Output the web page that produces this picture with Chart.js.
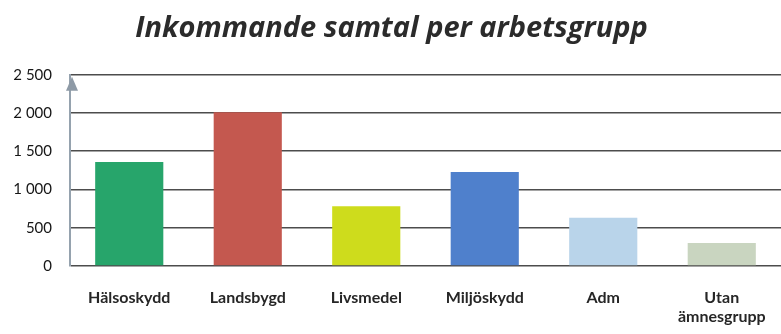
<!DOCTYPE html>
<html>
<head>
<meta charset="utf-8">
<script src="https://cdn.jsdelivr.net/npm/chart.js@4/dist/chart.umd.min.js"></script>
<style>
  html, body { margin: 0; padding: 0; background: #ffffff; }
  #wrap { width: 781px; height: 334px; position: relative; }
</style>
</head>
<body>
<div id="wrap"><canvas id="c" width="781" height="334"></canvas></div>
<script>
// Incoming calls per work group
const categories = ['Hälsoskydd', 'Landsbygd', 'Livsmedel', 'Miljöskydd', 'Adm', ['Utan', 'ämnesgrupp']];
const calls = [1360, 2010, 780, 1230, 630, 300];
const barColors = ['#27a56b', '#c4584f', '#cedc1c', '#4f80cc', '#b9d4ea', '#c9d5c0'];
const yTicks = [0, 500, 1000, 1500, 2000, 2500];

// Grey arrow head on top of the value axis
const axisArrow = {
  id: 'axisArrow',
  afterDraw(chart) {
    const ctx = chart.ctx;
    const y = chart.scales.y;
    const x0 = chart.chartArea.left + 2;
    const top = y.getPixelForValue(yTicks[yTicks.length - 1]);
    ctx.save();
    ctx.fillStyle = '#8e9aa6';
    ctx.beginPath();
    ctx.moveTo(x0, top + 2);
    ctx.lineTo(x0 - 6, top + 16);
    ctx.lineTo(x0 + 6, top + 16);
    ctx.closePath();
    ctx.fill();
    ctx.restore();
  }
};

new Chart(document.getElementById('c'), {
  type: 'bar',
  data: {
    labels: categories,
    datasets: [{
      data: calls,
      backgroundColor: barColors,
      borderWidth: 0,
      barPercentage: 0.575,
      categoryPercentage: 1
    }]
  },
  options: {
    responsive: false,
    animation: false,
    devicePixelRatio: 1,
    layout: { padding: { left: 0, right: -2, top: 0, bottom: 0 } },
    plugins: {
      legend: { display: false },
      tooltip: { enabled: false },
      title: {
        display: true,
        text: 'Inkommande samtal per arbetsgrupp',
        color: '#2b2b2b',
        font: { family: 'Open Sans', size: 29, weight: 'bold', style: 'italic', lineHeight: 1.2 },
        padding: { top: 11, bottom: 29 }
      }
    },
    scales: {
      x: {
        // invisible tick marks push the category labels down without widening the side padding
        grid: { display: false, drawTicks: true, tickLength: 22, tickColor: 'rgba(0,0,0,0)' },
        border: { display: false },
        ticks: {
          color: '#262626',
          font: { family: 'Lato', size: 16, weight: 'bold', lineHeight: 1.2 },
          padding: 0,
          maxRotation: 0,
          autoSkip: false
        },
        afterFit(s) { s.height = 68; }
      },
      y: {
        min: 0,
        max: 2500,
        afterBuildTicks(s) { s.ticks = yTicks.map(v => ({ value: v })); },
        grid: { color: '#4d4d4d', lineWidth: 1.6, drawTicks: false },
        border: { display: true, color: '#95a2ae', width: 2 },
        ticks: {
          color: '#161616',
          font: { family: 'Lato', size: 15 },
          padding: 18,
          callback: v => v.toLocaleString('sv-SE').replace(/\u00a0/g, ' ')
        },
        afterFit(s) { s.width = 70; }
      }
    }
  },
  plugins: [axisArrow]
});
</script>
</body>
</html>
